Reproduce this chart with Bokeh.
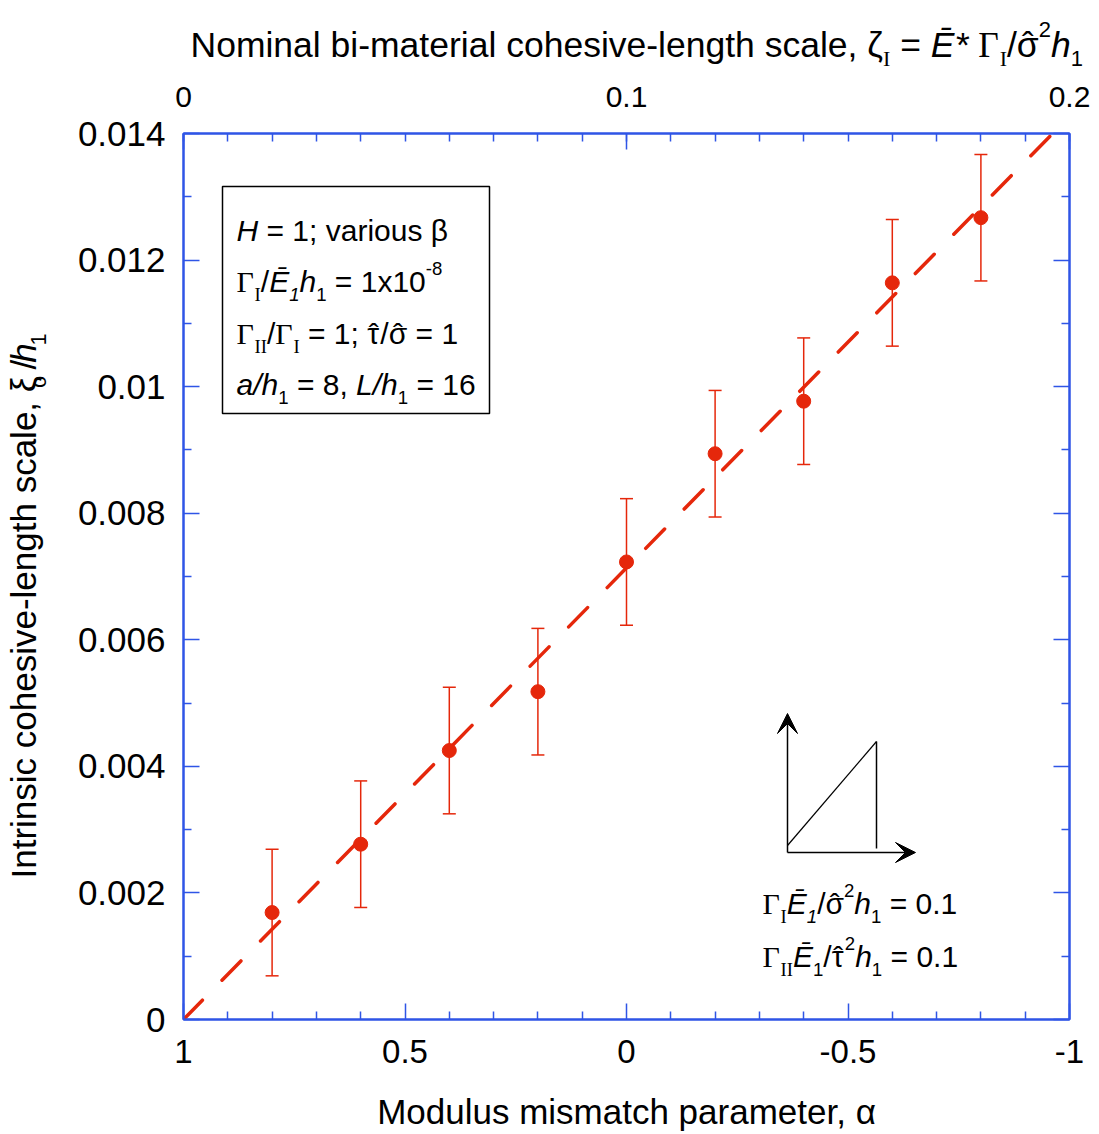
import math
from bokeh.plotting import figure
from bokeh.layouts import column, row
from bokeh.models import (Range1d, LinearAxis, FixedTicker, ColumnDataSource, Whisker,
                          TeeHead, Label, BoxAnnotation, Arrow, VeeHead)
from bokeh.embed import file_html
from bokeh.resources import INLINE

# ---------------- data ----------------
alpha = [0.8, 0.6, 0.4, 0.2, 0.0, -0.2, -0.4, -0.6, -0.8]
xi = [0.00169, 0.00277, 0.00425, 0.00518, 0.00723, 0.00894, 0.00977, 0.01164, 0.01267]
xi_err = [0.001, 0.001, 0.001, 0.001, 0.001, 0.001, 0.001, 0.001, 0.001]
fit_alpha = [1.0, -0.962]
fit_xi = [0.0, 0.014]

x_ticks = [1, 0.5, 0, -0.5, -1]
x_tick_labels = ["1", "0.5", "0", "-0.5", "-1"]
x_minor = [0.9, 0.8, 0.7, 0.6, 0.4, 0.3, 0.2, 0.1, -0.1, -0.2, -0.3, -0.4,
           -0.6, -0.7, -0.8, -0.9]
y_ticks = [0, 0.002, 0.004, 0.006, 0.008, 0.01, 0.012, 0.014]
y_tick_labels = ["0", "0.002", "0.004", "0.006", "0.008", "0.01", "0.012", "0.014"]
y_minor = [0.001, 0.003, 0.005, 0.007, 0.009, 0.011, 0.013]
top_ticks = [0, 0.1, 0.2]
top_tick_labels = ["0", "0.1", "0.2"]
top_minor = [i / 100 for i in range(21)]

RED = "#e5270b"
BLUE = "#2f55e6"
SANS = "Liberation Sans"
SERIF = "Liberation Serif"

# page geometry (pixels)
PW, PH = 1099, 1134
FL, FR, FT, FB = 183, 1069, 133, 1019          # plot frame
TOP_H = 72                                       # title strip above
LEFT_W = 60                                      # title strip at left
X0, X1, Y0, Y1 = 1.0, -1.0, 0.0, 0.014

p = figure(frame_width=FR - FL, frame_height=FB - FT,
           x_range=Range1d(X0, X1), y_range=Range1d(Y0, Y1),
           x_axis_location=None, y_axis_location=None,
           output_backend="svg", toolbar_location=None,
           min_border_left=FL - LEFT_W, min_border_right=PW - FR,
           min_border_top=FT - TOP_H, min_border_bottom=PH - FB,
           background_fill_color="white", border_fill_color="white")
p.extra_x_ranges = {"zeta": Range1d(0, 0.2)}
for g in p.grid:
    g.visible = False
p.outline_line_color = BLUE
p.outline_line_width = 2


def style_axis(ax, fs, standoff):
    ax.axis_line_color = BLUE
    ax.axis_line_width = 2
    ax.major_tick_line_color = BLUE
    ax.minor_tick_line_color = BLUE
    ax.major_tick_line_width = 1.5
    ax.minor_tick_line_width = 1.5
    ax.major_tick_in = 16
    ax.major_tick_out = 0
    ax.minor_tick_in = 8
    ax.minor_tick_out = 0
    ax.major_label_text_font = SANS
    ax.major_label_text_font_size = fs
    ax.major_label_text_color = "black"
    ax.major_label_standoff = standoff


bottom = LinearAxis(ticker=FixedTicker(ticks=x_ticks, minor_ticks=x_minor),
                    major_label_overrides=dict(zip(x_ticks, x_tick_labels)),
                    axis_label="Modulus mismatch parameter, α")
style_axis(bottom, "33px", 20)
bottom.axis_label_text_font = SANS
bottom.axis_label_text_font_size = "35px"
bottom.axis_label_text_font_style = "normal"
bottom.axis_label_text_color = "black"
bottom.axis_label_standoff = 26
p.add_layout(bottom, "below")

top = LinearAxis(x_range_name="zeta",
                 ticker=FixedTicker(ticks=top_ticks, minor_ticks=top_minor),
                 major_label_overrides=dict(zip(top_ticks, top_tick_labels)))
style_axis(top, "30px", 27)
p.add_layout(top, "above")

left = LinearAxis(ticker=FixedTicker(ticks=y_ticks, minor_ticks=y_minor),
                  major_label_overrides=dict(zip(y_ticks, y_tick_labels)))
style_axis(left, "35px", 18)
p.add_layout(left, "left")

right = LinearAxis(ticker=FixedTicker(ticks=y_ticks, minor_ticks=y_minor),
                   major_label_overrides={t: "" for t in y_ticks})
style_axis(right, "10px", 0)
p.add_layout(right, "right")

# ---------------- data marks ----------------
p.line(fit_alpha, fit_xi, line_color=RED, line_width=3.5, line_dash="27 28",
       line_cap="round")

src = ColumnDataSource(dict(alpha=alpha, xi=xi,
                            upper=[v + e for v, e in zip(xi, xi_err)],
                            lower=[v - e for v, e in zip(xi, xi_err)]))
wh = Whisker(source=src, base="alpha", upper="upper", lower="lower",
             line_color=RED, line_width=1.5,
             upper_head=TeeHead(size=13, line_color=RED, line_width=1.5),
             lower_head=TeeHead(size=13, line_color=RED, line_width=1.5))
p.add_layout(wh)
p.scatter("alpha", "xi", source=src, size=14, fill_color=RED, line_color=RED)


# ---------------- title strips ----------------
def strip(w, h):
    f = figure(width=w, height=h, x_range=Range1d(0, w), y_range=Range1d(h, 0),
               x_axis_location=None, y_axis_location=None, min_border=0,
               output_backend="svg", toolbar_location=None,
               background_fill_color="white", border_fill_color="white")
    f.outline_line_color = None
    for g in f.grid:
        g.visible = False
    return f


top_fig = strip(PW, TOP_H)
left_fig = strip(LEFT_W, PH - TOP_H)


# ---------------- text helpers ----------------
def dx(px):
    return X0 + (px - FL) / (FR - FL) * (X1 - X0)


def dy(py):
    return Y0 + (FB - py) / (FB - FT) * (Y1 - Y0)


MAPS = {
    "main": (p, dx, dy),
    "top": (top_fig, lambda x: x, lambda y: y),
    "left": (left_fig, lambda x: x, lambda y: y - TOP_H),
}

W_SANS = {" ": .278, "!": .278, "*": .389, ",": .278, "-": .333, ".": .278, "/": .278,
          ":": .278, ";": .278, "=": .584, "^": .469, "ˆ": .333,
          "A": .667, "B": .667, "C": .722, "D": .722, "E": .667, "F": .611, "G": .778,
          "H": .722, "I": .278, "J": .5, "K": .667, "L": .556, "M": .833, "N": .722,
          "O": .778, "P": .667, "Q": .778, "R": .722, "S": .667, "T": .611, "U": .722,
          "V": .667, "W": .944, "X": .667, "Y": .667, "Z": .611,
          "a": .556, "b": .556, "c": .5, "d": .556, "e": .556, "f": .278, "g": .556,
          "h": .556, "i": .222, "j": .222, "k": .5, "l": .222, "m": .833, "n": .556,
          "o": .556, "p": .556, "q": .556, "r": .333, "s": .5, "t": .278, "u": .556,
          "v": .5, "w": .722, "x": .5, "y": .5, "z": .5,
          "Ē": .667, "α": .578, "β": .575, "ζ": .448, "ξ": .448, "σ": .617, "τ": .438,
          "Γ": .556}
W_SERIF = {"Γ": .604, "I": .333, " ": .25}


def twidth(s, fam):
    table = W_SERIF if fam == SERIF else W_SANS
    return sum(table.get(ch, W_SANS.get(ch, .556)) for ch in s)


def rich(where, parts, x_px, y_px, size, angle=0.0, sub_drop=0.42):
    fig, mx, my = MAPS[where]
    pos = 0.0
    last_w = 0.0
    for part in parts:
        txt, kind = part[0], part[1]
        fam = part[2] if len(part) > 2 else SANS
        sty = part[3] if len(part) > 3 else "normal"
        fs = size * 0.62 if kind in ("sub", "sup") else size
        off = {"n": 0.0, "hat": 0.0, "sub": sub_drop * size, "sup": -0.42 * size}[kind]
        if kind == "hat":
            # circumflex centred over the previous glyph, no advance
            px, py = x_px + pos - last_w / 2, y_px
            fig.add_layout(Label(x=mx(px), y=my(py), text="ˆ", text_font=SANS,
                                 text_font_size=f"{fs:.1f}px", text_color="black",
                                 text_align="center", text_baseline="alphabetic"))
            continue
        stripped = txt.lstrip(" ")
        pos += twidth(txt[:len(txt) - len(stripped)], fam) * fs
        w = twidth(stripped, fam) * fs
        if angle == 0:
            fig.add_layout(Label(x=mx(x_px + pos), y=my(y_px + off), text=stripped,
                                 text_font=fam, text_font_style=sty,
                                 text_font_size=f"{fs:.1f}px", text_color="black",
                                 text_align="left", text_baseline="alphabetic"))
        else:
            # rotated 90 deg: text runs upward, baseline on the right;
            # each piece anchored at its own centre
            cx = x_px + off - 0.35 * fs
            cy = y_px - (pos + w / 2) + 0.076 * w
            fig.add_layout(Label(x=mx(cx), y=my(cy), text=stripped, angle=angle,
                                 text_font=fam, text_font_style=sty,
                                 text_font_size=f"{fs:.1f}px", text_color="black",
                                 text_align="center", text_baseline="middle"))
        pos += w
        last_w = twidth(stripped[-1:], fam) * fs if stripped else 0.0


# top axis title
rich("top", [("Nominal bi-material cohesive-length scale, ζ", "n"),
             ("I", "sub", SERIF),
             (" = ", "n"),
             ("Ē*", "n", SANS, "italic"),
             (" ", "n"),
             ("Γ", "n", SERIF),
             ("I", "sub", SERIF),
             ("/σ", "n"), ("", "hat"),
             ("2", "sup"),
             ("h", "n", SANS, "italic"),
             ("1", "sub")], 190, 44, 35.5, sub_drop=0.40)

# left axis title (rotated)
rich("left", [("Intrinsic cohesive-length scale, ξ", "n"),
              ("o", "sub"),
              (" /", "n"),
              ("h", "n", SANS, "italic"),
              ("1", "sub")], 35, 877, 35, angle=math.pi / 2, sub_drop=0.3)

# parameter box
p.add_layout(BoxAnnotation(left=dx(222), right=dx(489), top=dy(186), bottom=dy(413),
                           fill_color="white", fill_alpha=1.0,
                           line_color="black", line_alpha=1.0, line_width=1.5))
rich("main", [("H", "n", SANS, "italic"), (" = 1; various β", "n")], 236, 230, 30)
rich("main", [("Γ", "n", SERIF), ("I", "sub", SERIF), ("/", "n"),
              ("Ē", "n", SANS, "italic"), ("1", "sub", SANS, "italic"),
              ("h", "n", SANS, "italic"), ("1", "sub"),
              (" = 1x10", "n"), ("-8", "sup")], 236, 281, 30)
rich("main", [("Γ", "n", SERIF), ("II", "sub", SERIF), ("/", "n"), ("Γ", "n", SERIF),
              ("I", "sub", SERIF), (" = 1; τ", "n"), ("", "hat"), ("/σ", "n"),
              ("", "hat"), (" = 1", "n")], 236, 333, 30)
rich("main", [("a/h", "n", SANS, "italic"), ("1", "sub"), (" = 8, ", "n"),
              ("L/h", "n", SANS, "italic"), ("1", "sub"), (" = 16", "n")], 236, 384, 30)

# traction-separation schematic
p.add_layout(Arrow(x_start=dx(787), y_start=dy(852), x_end=dx(787), y_end=dy(713),
                   line_color="black", line_width=1.5,
                   end=VeeHead(size=20, fill_color="black", line_color="black")))
p.add_layout(Arrow(x_start=dx(787), y_start=dy(852), x_end=dx(915), y_end=dy(852),
                   line_color="black", line_width=1.5,
                   end=VeeHead(size=20, fill_color="black", line_color="black")))
p.add_layout(Arrow(x_start=dx(787), y_start=dy(845), x_end=dx(876), y_end=dy(741),
                   line_color="black", line_width=1.2, end=None))
p.add_layout(Arrow(x_start=dx(876), y_start=dy(741), x_end=dx(876), y_end=dy(848),
                   line_color="black", line_width=1.5, end=None))

rich("main", [("Γ", "n", SERIF), ("I", "sub", SERIF), ("Ē", "n", SANS, "italic"),
              ("1", "sub", SANS, "italic"), ("/σ", "n"), ("", "hat"), ("2", "sup"),
              ("h", "n", SANS, "italic"), ("1", "sub"), (" = 0.1", "n")], 762, 903, 30)
rich("main", [("Γ", "n", SERIF), ("II", "sub", SERIF), ("Ē", "n", SANS, "italic"),
              ("1", "sub"), ("/τ", "n"), ("", "hat"), ("2", "sup"),
              ("h", "n", SANS, "italic"), ("1", "sub"), (" = 0.1", "n")], 762, 956, 30)

layout = column(top_fig, row(left_fig, p, spacing=0), spacing=0)
open("out.html", "w").write(file_html(layout, INLINE))
